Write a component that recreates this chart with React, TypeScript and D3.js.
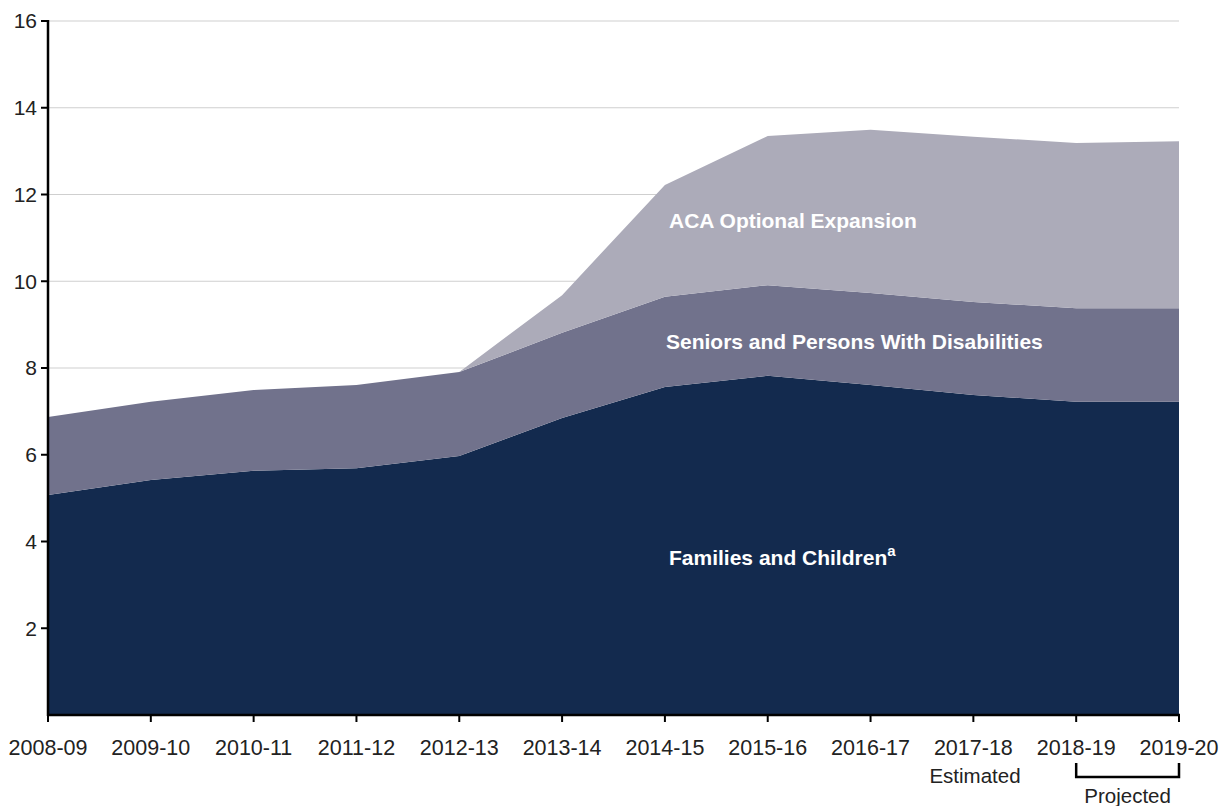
import React from "react";
import * as d3 from "d3";

const years = ["2008-09","2009-10","2010-11","2011-12","2012-13","2013-14","2014-15","2015-16","2016-17","2017-18","2018-19","2019-20"];
const families = [5.07,5.42,5.63,5.69,5.97,6.85,7.56,7.82,7.61,7.38,7.22,7.22];
const seniors = [1.80,1.80,1.86,1.92,1.94,1.96,2.08,2.09,2.12,2.14,2.16,2.16];
const aca = [0,0,0,0,0,0.87,2.58,3.44,3.76,3.81,3.81,3.85];
const yTicks = [2,4,6,8,10,12,14,16];
const seriesKeys = ["families","seniors","aca"];
const colors = ["#132a4e","#71728c","#acabb9"];

export default function App() {
  const W = 1229, H = 806;
  const x0 = 48, x1 = 1179, yTop = 21, yBot = 715;
  const x = d3.scalePoint<string>().domain(years).range([x0, x1]);
  const y = d3.scaleLinear().domain([0,16]).range([yBot, yTop]);
  const rows = years.map((yr,i)=>({year:yr, families:families[i], seniors:seniors[i], aca:aca[i]}));
  const stack = d3.stack<any>().keys(seriesKeys)(rows);
  const area = d3.area<any>().x((d:any)=>x(d.data.year)!).y0((d:any)=>y(d[0])).y1((d:any)=>y(d[1]));
  const font = "'Liberation Sans', Arial, Helvetica, sans-serif";
  const xP = x("2018-19")!, xQ = x("2019-20")!;
  return (
    <svg width={W} height={H} style={{position:"absolute", left:0, top:0}} fontFamily={font}>
      <rect width={W} height={H} fill="#fff"/>
      {yTicks.map(t=>(
        <line key={"g"+t} x1={x0} x2={x1} y1={y(t)} y2={y(t)} stroke="#cfcfcf" strokeWidth={1}/>
      ))}
      {stack.map((s,i)=>(
        <path key={s.key} d={area(s as any)!} fill={colors[i]}/>
      ))}
      <line x1={x0} x2={x0} y1={y(16)-1} y2={yBot+1} stroke="#000" strokeWidth={2.5}/>
      <line x1={x0-1} x2={x1+1} y1={yBot} y2={yBot} stroke="#000" strokeWidth={2.5}/>
      {yTicks.map(t=>(
        <g key={"t"+t}>
          <line x1={x0-7} x2={x0} y1={y(t)} y2={y(t)} stroke="#000" strokeWidth={2}/>
          <text x={37} y={y(t)} dy="0.35em" textAnchor="end" fontSize={21} fill="#222">{t}</text>
        </g>
      ))}
      {years.map(yr=>(
        <g key={yr}>
          <line x1={x(yr)} x2={x(yr)} y1={yBot} y2={yBot+7} stroke="#000" strokeWidth={2}/>
          <text x={x(yr)} y={755} textAnchor="middle" fontSize={21.5} fill="#222">{yr}</text>
        </g>
      ))}
      <text x={975} y={783} textAnchor="middle" fontSize={20.5} fill="#222">Estimated</text>
      <path d={`M${xP},763 V777 H${xQ} V763`} fill="none" stroke="#000" strokeWidth={2.5}/>
      <text x={(xP+xQ)/2} y={803} textAnchor="middle" fontSize={20.5} fill="#222">Projected</text>
      <text x={669} y={228} fontSize={21} fontWeight="bold" fill="#fff">ACA Optional Expansion</text>
      <text x={666} y={349} fontSize={21} fontWeight="bold" fill="#fff">Seniors and Persons With Disabilities</text>
      <text x={669} y={565} fontSize={21} fontWeight="bold" fill="#fff">Families and Children<tspan dy={-9} fontSize={15}>a</tspan></text>
    </svg>
  );
}
